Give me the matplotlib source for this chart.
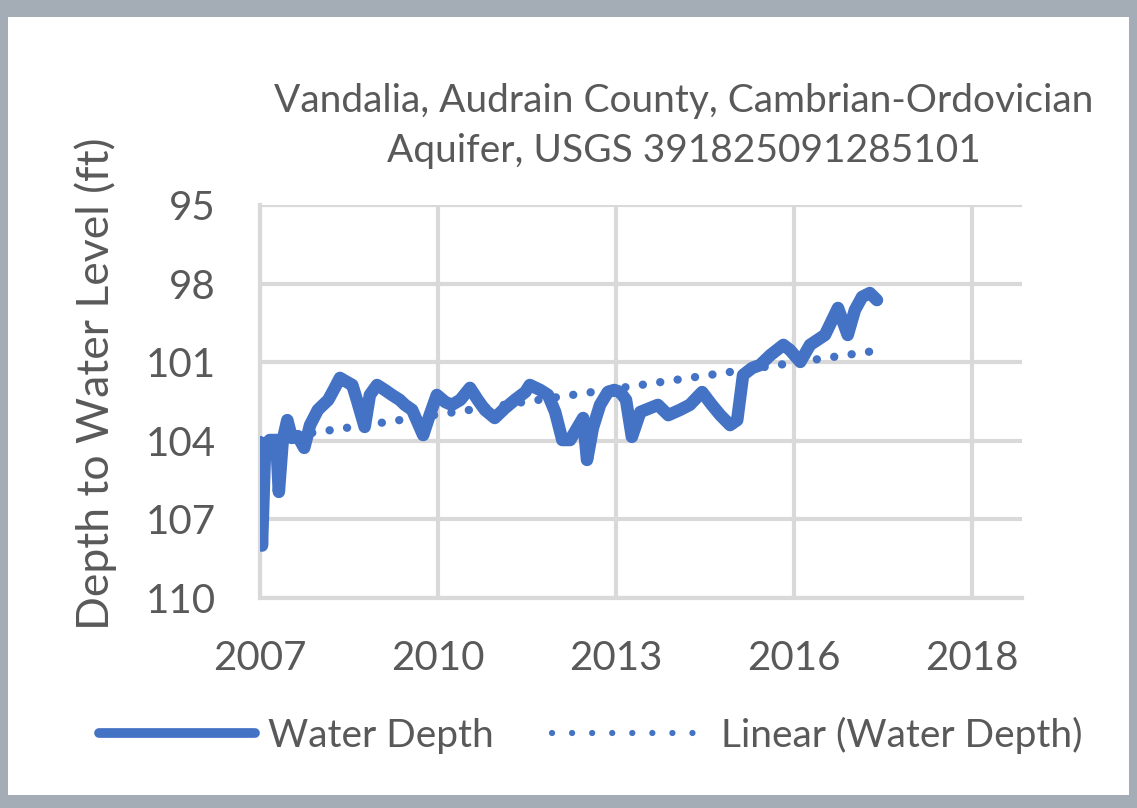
import numpy as np
import matplotlib
matplotlib.use('Agg')
import matplotlib.pyplot as plt
from matplotlib.lines import Line2D
from matplotlib.patches import Rectangle

plt.rcParams['font.family'] = ['Lato', 'DejaVu Sans']

# water depth readings (decimal year, depth in ft)
years = [2007.92, 2007.95, 2008.00, 2008.07, 2008.17, 2008.21, 2008.27, 2008.34,
         2008.41, 2008.50, 2008.60, 2008.69, 2008.81, 2008.97, 2009.07, 2009.15,
         2009.26, 2009.34, 2009.41, 2009.53, 2009.61, 2009.72, 2009.84, 2009.95,
         2010.07, 2010.15, 2010.26, 2010.43, 2010.53, 2010.64, 2010.77, 2010.87,
         2011.00, 2011.15, 2011.27, 2011.38, 2011.53, 2011.69, 2011.84, 2012.00,
         2012.07, 2012.23, 2012.35, 2012.46, 2012.57, 2012.69, 2012.78, 2012.89,
         2012.95, 2013.04, 2013.15, 2013.27, 2013.37, 2013.46, 2013.55, 2013.64,
         2013.77, 2013.92, 2014.04, 2014.20, 2014.38, 2014.53, 2014.72, 2014.87,
         2015.00, 2015.15, 2015.26, 2015.35, 2015.49, 2015.61, 2015.77, 2015.97,
         2016.07, 2016.23, 2016.38, 2016.61, 2016.81, 2016.96, 2017.07, 2017.18,
         2017.30, 2017.41]
depth = [104.05, 108.0, 104.16, 103.97, 103.97, 105.95, 103.97, 103.21,
         103.89, 103.82, 104.27, 103.40, 102.82, 102.44, 101.98, 101.60,
         101.76, 101.87, 102.44, 103.47, 102.25, 101.87, 102.06, 102.25,
         102.44, 102.63, 102.82, 103.78, 103.02, 102.25, 102.52, 102.63,
         102.44, 101.98, 102.44, 102.82, 103.13, 102.75, 102.44, 102.14,
         101.87, 102.06, 102.25, 102.90, 103.97, 103.97, 103.59, 103.13,
         104.73, 103.51, 102.63, 102.14, 102.06, 102.14, 102.44, 103.85,
         102.90, 102.75, 102.63, 103.02, 102.82, 102.63, 102.14, 102.63,
         103.02, 103.40, 103.21, 101.49, 101.22, 101.11, 100.73, 100.34,
         100.53, 100.99, 100.34, 99.96, 98.93, 99.96, 99.01, 98.51,
         98.36, 98.63]

yticks = [95, 98, 101, 104, 107, 110]
xtick_labels = ['2007', '2010', '2013', '2016', '2018']
axis_start = 2007.92
tick_step = 1000 / 365.25   # excel date axis, major unit 1000 days

title = 'Vandalia, Audrain County, Cambrian-Ordovician\nAquifer, USGS 391825091285101'

blue = '#4472C4'
grid_c = '#d9d9d9'
txt_c = '#595959'
frame_c = '#a4adb5'

W, H = 1137, 808
fig = plt.figure(figsize=(W/100, H/100), dpi=100)
fig.patch.set_facecolor('white')
# gray frame round the chart (left, right, top, bottom bands)
for (x0, y0, w, h) in [(0, 0, 8, H), (W - 8, 0, 8, H), (0, H - 17, W, 17), (0, 0, W, 13)]:
    fig.add_artist(Rectangle((x0/W, y0/H), w/W, h/H, transform=fig.transFigure,
                             facecolor=frame_c, edgecolor='none', zorder=0))

ax = fig.add_axes([260/W, 1 - 598/H, 762/W, 393/H])

x = np.array(years)
y = np.array(depth)
ax.plot(x, y, color=blue, lw=9, solid_joinstyle='round', solid_capstyle='round',
        zorder=3, label='Water Depth')

# linear trend of the series
k, b = np.polyfit(x, y, 1)
xt = np.array([x[0], x[-1]])
ax.plot(xt, k*xt + b, color=blue, lw=6, linestyle=(0, (0.01, 2.1)),
        dash_capstyle='round', zorder=4, label='Linear (Water Depth)')

xticks = axis_start + tick_step*np.arange(len(xtick_labels))
ax.set_xticks(xticks)
ax.set_xticklabels(xtick_labels)
ax.set_xlim(axis_start, axis_start + tick_step*762/178)
ax.set_yticks(yticks)
ax.set_ylim(110, 95)

ax.grid(True, color=grid_c, lw=3)
ax.set_axisbelow(True)
for s in ['top', 'right']:
    ax.spines[s].set_visible(False)
for s in ['left', 'bottom']:
    ax.spines[s].set_color(grid_c)
    ax.spines[s].set_linewidth(3)
ax.tick_params(length=0, labelsize=29, labelcolor=txt_c)
ax.tick_params(axis='y', pad=32)
ax.tick_params(axis='x', pad=30)

fig.text(96/W, 1 - 384/H, 'Depth to Water Level (ft)', rotation=90,
         ha='center', va='center', fontsize=32, color=txt_c)
fig.text(684/W, 1 - 126/H, title, ha='center', va='center',
         fontsize=28, color=txt_c, linespacing=1.5)

handles = [Line2D([], [], color=blue, lw=7, solid_capstyle='round'),
           Line2D([], [], color=blue, lw=4.5, linestyle=(0, (0.01, 3.2)),
                  dash_capstyle='round')]
fig.legend(handles, ['Water Depth', 'Linear (Water Depth)'], loc='center',
           bbox_to_anchor=(591/W, 1 - 735/H), ncol=2, frameon=False,
           fontsize=28, labelcolor=txt_c, handlelength=4.0, handletextpad=0.35,
           columnspacing=1.5)

fig.savefig('out.png', dpi=100, facecolor='white')
